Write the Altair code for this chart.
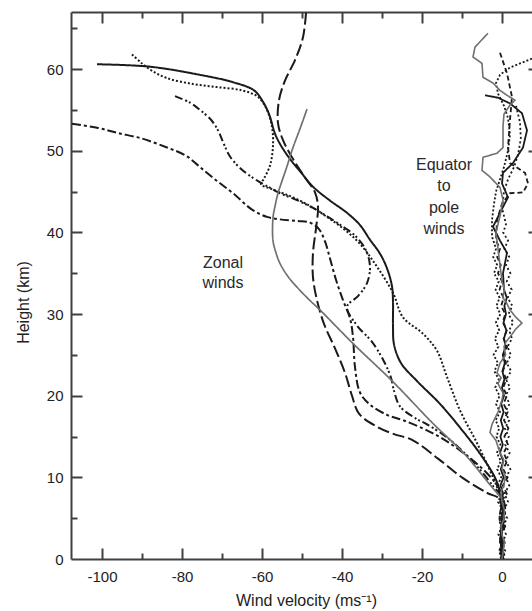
import altair as alt
import pandas as pd

# ---- axis tick positions ----
x_major = [-100, -80, -60, -40, -20, 0]
x_minor = [-90, -70, -50, -30, -10]
y_major = [10, 20, 30, 40, 50, 60]
y_labels = [0, 10, 20, 30, 40, 50, 60]
y_minor = [5, 15, 25, 35, 45, 55, 65]

# ---- zonal wind profiles: (wind m/s, height km) ----
zonal_solid = [(-101.25, 60.6), (-88.0, 60.3), (-75.5, 59.3), (-67.25, 58.4), (-62.0, 57.4),
               (-59.75, 56.0), (-58.25, 54.5), (-56.5, 51.8), (-53.75, 49.5), (-50.0, 47.2),
               (-47.25, 45.6), (-43.0, 43.9), (-38.75, 42.4), (-35.5, 40.9), (-33.0, 39.1),
               (-30.5, 37.4), (-28.75, 35.6), (-27.5, 33.4), (-27.25, 31.5), (-27.25, 28.5),
               (-27.0, 26.3), (-25.25, 24.0), (-21.25, 21.8), (-15.5, 19.0), (-10.5, 16.1),
               (-5.5, 12.9), (-1.5, 9.7), (-0.25, 7.4), (0.4, 5.0), (-0.3, 2.5), (0.2, 0.0)]

zonal_dotted = [(-92.5, 61.8), (-90.0, 60.7), (-87.5, 59.8), (-83.75, 58.9), (-77.5, 58.2),
                (-71.25, 57.8), (-65.0, 57.4), (-61.0, 56.6), (-58.75, 55.0), (-57.5, 52.9),
                (-57.25, 50.6), (-58.0, 48.2), (-59.5, 46.6), (-60.25, 45.9), (-57.5, 45.3),
                (-52.25, 44.3), (-47.5, 43.1), (-43.75, 41.9), (-39.5, 40.4), (-35.5, 38.6),
                (-31.25, 35.8), (-27.25, 32.6), (-24.75, 29.6), (-19.75, 27.6), (-16.25, 25.5),
                (-13.75, 22.3), (-10.5, 18.2), (-6.25, 14.2), (-2.25, 10.0), (-0.5, 7.8),
                (0.6, 5.5), (0.0, 3.0), (0.5, 0.5)]

zonal_dashdotdot = [(-81.75, 56.7), (-78.0, 55.9), (-75.5, 55.0), (-72.75, 53.8), (-71.0, 52.5),
                    (-69.5, 50.8), (-68.0, 49.3), (-65.5, 47.9), (-62.0, 46.6), (-58.5, 45.6),
                    (-55.5, 44.8), (-51.0, 43.9), (-47.25, 43.0), (-43.5, 41.9), (-39.75, 40.7),
                    (-36.5, 39.5), (-34.0, 37.8), (-33.0, 35.8), (-33.75, 33.8), (-36.0, 32.2),
                    (-38.75, 30.9), (-36.25, 28.6), (-32.5, 26.6), (-29.5, 24.2), (-27.75, 22.2),
                    (-27.0, 20.6), (-25.5, 18.7), (-21.5, 17.2), (-18.75, 16.5), (-13.0, 14.6),
                    (-6.5, 11.5), (-2.0, 8.8), (0.0, 7.5), (-0.6, 5.0), (0.3, 2.0), (-0.2, 0.0)]

zonal_dashdot = [(-107.5, 53.3), (-101.0, 52.8), (-96.25, 52.2), (-90.0, 51.5), (-83.75, 50.4),
                 (-79.0, 49.4), (-75.5, 48.0), (-71.5, 46.4), (-67.25, 44.8), (-62.5, 42.8),
                 (-58.75, 41.9), (-55.5, 41.6), (-51.0, 41.4), (-48.0, 41.2), (-45.75, 40.4),
                 (-44.25, 38.9), (-43.0, 36.8), (-41.5, 34.2), (-39.75, 31.7), (-38.0, 29.5),
                 (-37.25, 27.2), (-36.75, 23.5), (-35.5, 20.4), (-33.0, 18.9), (-28.5, 17.6),
                 (-24.75, 17.0), (-17.25, 15.4), (-10.5, 13.3), (-3.75, 10.5), (-0.5, 8.4),
                 (0.8, 6.0), (-0.4, 3.5), (0.4, 1.0)]

zonal_longdash = [(-49.0, 66.9), (-49.75, 63.9), (-51.75, 61.1), (-54.25, 58.6), (-55.75, 56.2),
                  (-56.0, 53.4), (-54.75, 51.3), (-52.5, 49.2), (-49.5, 46.9), (-46.75, 44.9),
                  (-46.0, 43.1), (-46.5, 40.5), (-47.25, 37.5), (-47.25, 34.5), (-46.25, 31.7),
                  (-44.5, 28.8), (-41.75, 25.8), (-39.25, 22.8), (-37.5, 20.0), (-35.75, 17.8),
                  (-31.25, 16.2), (-27.0, 15.3), (-22.5, 14.6), (-16.0, 12.3), (-9.75, 9.9),
                  (-3.75, 8.1), (-0.5, 7.3), (0.3, 4.5), (-0.5, 2.0), (0.0, 0.0)]

zonal_gray = [(-48.75, 55.1), (-50.5, 52.7), (-52.25, 50.4), (-53.75, 48.1), (-55.0, 46.3),
              (-56.0, 44.8), (-56.75, 43.2), (-57.25, 41.8), (-57.25, 39.0), (-56.5, 37.5),
              (-55.5, 36.2), (-53.5, 34.6), (-51.25, 33.3), (-48.5, 31.9), (-45.5, 30.5),
              (-37.25, 26.4), (-27.25, 21.7), (-17.25, 16.6), (-9.25, 12.8), (-3.0, 9.1),
              (-0.25, 7.5)]

# ---- equator-to-pole (meridional) wind profiles ----
merid_solid = [(-4.25, 56.8), (-1.0, 56.5), (2.0, 55.8), (5.0, 54.6), (6.25, 52.5), (5.25, 50.4),
               (2.75, 48.5), (0.25, 47.3), (0.0, 46.0), (1.5, 44.3), (-0.5, 42.4), (-2.25, 40.7),
               (-0.5, 39.0), (1.25, 37.5), (0.25, 35.0), (0.5, 33.0), (1.2, 32.0), (0.6, 31.0),
               (1.0, 30.0), (0.4, 29.0), (1.1, 28.0), (0.5, 27.0), (0.9, 26.0), (0.2, 25.0),
               (0.7, 24.0), (0.1, 23.0), (0.6, 22.0), (0.0, 21.0), (0.5, 20.0), (-0.2, 19.0),
               (0.4, 18.0), (-0.3, 17.0), (0.3, 16.0), (-0.4, 15.0), (0.2, 14.0), (-0.5, 13.0),
               (0.3, 12.0), (-0.3, 11.0), (0.4, 10.0), (-0.4, 9.0), (0.3, 8.0), (-0.5, 7.0),
               (0.4, 6.0), (-0.3, 5.0), (0.5, 4.0), (-0.4, 3.0), (0.3, 2.0), (-0.2, 1.0),
               (0.2, 0.0)]

merid_dash = [(-0.5, 62.0), (1.25, 59.5), (2.5, 56.6), (2.0, 53.8), (1.5, 50.4), (2.0, 48.5),
              (5.75, 47.3), (6.5, 46.0), (5.25, 44.9), (2.0, 44.8), (0.0, 43.5), (-1.25, 41.5),
              (-1.5, 39.0), (-0.5, 38.0), (-1.2, 37.0), (-0.3, 36.0), (-1.0, 35.0), (0.0, 34.0),
              (-0.6, 33.0), (0.4, 32.0), (-0.2, 31.0), (0.8, 30.0), (0.2, 29.0), (1.2, 28.0),
              (0.4, 27.0), (1.3, 26.0), (0.5, 25.0), (1.0, 24.0), (0.2, 23.0), (1.1, 22.0),
              (0.3, 21.0), (1.2, 20.0), (0.4, 19.0), (1.4, 18.0), (0.5, 17.0), (1.6, 16.0),
              (0.6, 15.0), (1.5, 14.0), (0.4, 13.0), (1.3, 12.0), (0.3, 11.0), (1.4, 10.0),
              (0.2, 9.0), (1.2, 8.0), (-0.2, 7.0), (0.9, 6.0), (-0.3, 5.0), (0.8, 4.0),
              (-0.2, 3.0), (0.7, 2.0), (-0.1, 1.0), (0.4, 0.0)]

merid_dot = [(7.5, 61.3), (4.5, 60.7), (2.0, 60.2), (-0.5, 59.3), (-1.5, 58.3), (-1.0, 57.0),
             (0.5, 55.5), (1.5, 54.0), (2.0, 52.0), (1.5, 50.0), (0.5, 48.0), (-0.5, 46.5),
             (-1.5, 45.0), (-2.0, 43.5), (-2.5, 41.5), (-2.5, 39.5), (-1.5, 38.0), (-2.2, 37.0),
             (-1.2, 36.0), (-2.0, 35.0), (-0.8, 34.0), (-1.6, 33.0), (-0.6, 32.0), (-1.4, 31.0),
             (-0.4, 30.0), (-1.5, 29.0), (-0.7, 28.0), (-1.8, 27.0), (-0.9, 26.0), (-2.1, 25.0),
             (-1.0, 24.0), (-1.9, 23.0), (-0.8, 22.0), (-1.7, 21.0), (-0.6, 20.0), (-1.5, 19.0),
             (-0.5, 18.0), (-1.6, 17.0), (-0.7, 16.0), (-1.4, 15.0), (-0.4, 14.0), (-1.3, 13.0),
             (-0.3, 12.0), (-1.2, 11.0), (-0.2, 10.0), (-1.1, 9.0), (-0.1, 8.0), (-1.0, 7.0),
             (0.2, 6.0), (-0.8, 5.0), (0.1, 4.0), (-0.9, 3.0), (0.0, 2.0), (-0.7, 1.0),
             (-0.2, 0.0)]

merid_dot2 = [(3.5, 55.5), (4.5, 53.5), (4.7, 51.5), (4.0, 49.5), (3.0, 48.0), (1.5, 46.5),
              (0.5, 45.0), (0.0, 43.0), (1.0, 41.0), (0.3, 40.0), (1.5, 39.0), (0.6, 38.0),
              (1.8, 37.0), (1.0, 36.0), (2.1, 35.0), (1.2, 34.0), (2.4, 33.0), (1.4, 32.0),
              (2.6, 31.0), (1.6, 30.0), (2.8, 29.0), (1.8, 28.0), (2.5, 27.0), (1.4, 26.0),
              (2.2, 25.0), (1.2, 24.0), (2.3, 23.0), (1.0, 22.0), (2.0, 21.0), (0.9, 20.0),
              (1.9, 19.0), (0.8, 18.0), (1.8, 17.0), (0.7, 16.0), (1.7, 15.0), (0.8, 14.0),
              (1.9, 13.0), (0.9, 12.0), (2.1, 11.0), (1.0, 10.0), (1.8, 9.0), (0.6, 8.0),
              (1.5, 7.0), (0.4, 6.0), (1.3, 5.0), (0.2, 4.0), (1.0, 3.0), (0.1, 2.0),
              (0.8, 1.0), (0.3, 0.0)]

merid_gray = [(-3.5, 64.4), (-6.75, 62.7), (-7.25, 61.5), (-5.0, 60.7), (-4.75, 59.0), (-2.25, 58.3),
              (-0.5, 57.4), (1.25, 56.8), (3.25, 56.2), (2.0, 55.6), (0.5, 54.5), (0.25, 53.0),
              (0.25, 50.4), (-1.25, 49.7), (-4.75, 49.2), (-5.0, 47.6), (-3.0, 46.8), (-0.5, 45.5),
              (0.25, 44.0), (-0.5, 42.0), (-1.5, 40.0), (-1.0, 38.0), (-0.5, 36.0), (0.0, 34.0),
              (0.6, 33.0), (0.2, 32.0), (1.0, 31.5), (2.0, 30.5), (3.5, 29.6), (5.0, 28.9),
              (3.5, 28.2), (2.0, 27.2), (1.0, 26.6), (0.5, 26.0), (0.9, 25.0), (-0.5, 24.0),
              (-1.25, 22.8), (-0.2, 22.2), (-1.0, 21.5), (-0.5, 21.0), (0.3, 20.3), (0.0, 19.5),
              (-1.0, 18.0), (-2.5, 16.5), (-3.0, 15.5), (-1.5, 14.5), (-0.5, 13.0), (0.4, 12.2),
              (0.0, 11.0), (0.8, 10.2), (0.5, 9.0), (-0.3, 8.2), (0.0, 7.0), (0.6, 6.0),
              (0.5, 5.0), (-0.2, 4.0), (0.0, 3.0), (0.6, 2.0), (0.3, 1.0), (0.0, 0.0)]

# ---- annotations ----
zonal_note = ["Zonal\nwinds"]
zonal_note_u = [-69.75]
zonal_note_z = [36.2]
merid_note = ["Equator\nto\npole\nwinds"]
merid_note_u = [-14.5]
merid_note_z = [48.3]

# line styles per profile
dash_names = ["solid", "dotted", "dashdotdot", "dashdot", "longdash", "gray",
              "m_solid", "m_dash", "m_dot", "m_dot2", "m_gray"]
dash_patterns = [[1, 0], [2, 2], [8, 3, 2, 2, 2, 3], [9, 3, 3, 3], [12, 4], [1, 0],
                 [1, 0], [5, 3], [2, 2], [2, 2.5], [1, 0]]


def profile(name, pts):
    return pd.DataFrame({
        "series": name,
        "u": [p[0] for p in pts],
        "z": [p[1] for p in pts],
        "i": list(range(len(pts))),
    })


zonal_black_df = pd.concat([
    profile("solid", zonal_solid),
    profile("dotted", zonal_dotted),
    profile("dashdotdot", zonal_dashdotdot),
    profile("dashdot", zonal_dashdot),
    profile("longdash", zonal_longdash),
], ignore_index=True)
zonal_gray_df = profile("gray", zonal_gray)
merid_black_df = pd.concat([
    profile("m_solid", merid_solid),
    profile("m_dash", merid_dash),
    profile("m_dot", merid_dot),
    profile("m_dot2", merid_dot2),
], ignore_index=True)
merid_gray_df = profile("m_gray", merid_gray)
zonal_note_df = pd.DataFrame({"u": zonal_note_u, "z": zonal_note_z, "label": zonal_note})
merid_note_df = pd.DataFrame({"u": merid_note_u, "z": merid_note_z, "label": merid_note})

W, H = 461, 547
xscale = alt.Scale(domain=[-107.75, 7.5], nice=False, zero=False)
yscale = alt.Scale(domain=[0, 67], nice=False, zero=False)
dash_scale = alt.Scale(domain=dash_names, range=dash_patterns)

INK = "#1a1a1a"
GRAY = "#707070"
FRAME = "#404040"

# plain hyphen for negative tick labels
HYPHEN_LABEL = "datum.value < 0 ? '-' + (-datum.value) : '' + datum.value"


def tick_axis(orient, values, size):
    # inward-pointing ticks: the axis is shifted into the plot by its tick length
    return alt.Axis(orient=orient, values=values, tickSize=size, offset=-size,
                    domain=False, labels=False, ticks=True, grid=False, title=None)


x_label_axis = alt.Axis(orient="bottom", values=x_major, ticks=False, tickSize=0, domain=True,
                        labelPadding=10, labelExpr=HYPHEN_LABEL,
                        title="Wind velocity (ms\u207b\u00b9)",
                        titleX=235, titleY=41, titleBaseline="middle", titleAlign="center")
y_label_axis = alt.Axis(orient="left", values=y_labels, ticks=False, tickSize=0, domain=True,
                        labelPadding=8, title="Height (km)", titleX=-48, titleY=290,
                        titleAngle=-90, titleBaseline="middle", titleAlign="center")
x_top_frame = alt.Axis(orient="top", ticks=False, tickSize=0, domain=True, labels=False,
                       grid=False, title=None)


def lines(df, axis_x, axis_y, color, width, interp):
    return alt.Chart(df).mark_line(
        clip=True, color=color, strokeWidth=width, interpolate=interp, strokeCap="butt"
    ).encode(
        x=alt.X("u:Q", scale=xscale, axis=axis_x),
        y=alt.Y("z:Q", scale=yscale, axis=axis_y),
        strokeDash=alt.StrokeDash("series:N", scale=dash_scale, legend=None),
        order=alt.Order("i:Q"),
    )


def note(df, axis_x, line_height):
    return alt.Chart(df).mark_text(
        font="Liberation Sans", fontSize=16, color="#2a2a2a", align="center",
        baseline="middle", lineBreak="\n", lineHeight=line_height
    ).encode(
        x=alt.X("u:Q", scale=xscale, axis=axis_x),
        y=alt.Y("z:Q", scale=yscale, axis=None),
        text="label:N",
    )


l_zonal = lines(zonal_black_df, x_label_axis, y_label_axis, INK, 2, "catmull-rom")
l_zonal_gray = lines(zonal_gray_df, tick_axis("bottom", x_major, 11),
                     tick_axis("left", y_major, 11), GRAY, 1.7, "catmull-rom")
l_merid = lines(merid_black_df, tick_axis("bottom", x_minor, 6),
                tick_axis("left", y_minor, 6), INK, 1.8, "linear")
l_merid_gray = lines(merid_gray_df, x_top_frame, tick_axis("right", y_major, 4),
                     GRAY, 1.6, "linear")
t_zonal = note(zonal_note_df, tick_axis("top", x_major, 11), 20)
t_merid = note(merid_note_df, tick_axis("top", x_minor, 6), 21.5)

chart = alt.layer(
    l_zonal, l_zonal_gray, l_merid, l_merid_gray, t_zonal, t_merid
).resolve_axis(
    x="independent", y="independent"
).properties(
    width=W, height=H,
    padding={"left": 71, "top": 12, "right": 0, "bottom": 52},
    autosize=alt.AutoSizeParams(type="none"),
    background="white",
).configure_view(
    stroke=None
).configure_axis(
    grid=False,
    domainColor=FRAME, domainWidth=2,
    tickColor=FRAME, tickWidth=2,
    labelFont="Liberation Sans", labelFontSize=15, labelColor="#222222",
    titleFont="Liberation Sans", titleFontSize=16, titleFontWeight="normal",
    titleColor="#222222",
)

chart.save("out.html", embed_options={"renderer": "svg", "actions": False})
